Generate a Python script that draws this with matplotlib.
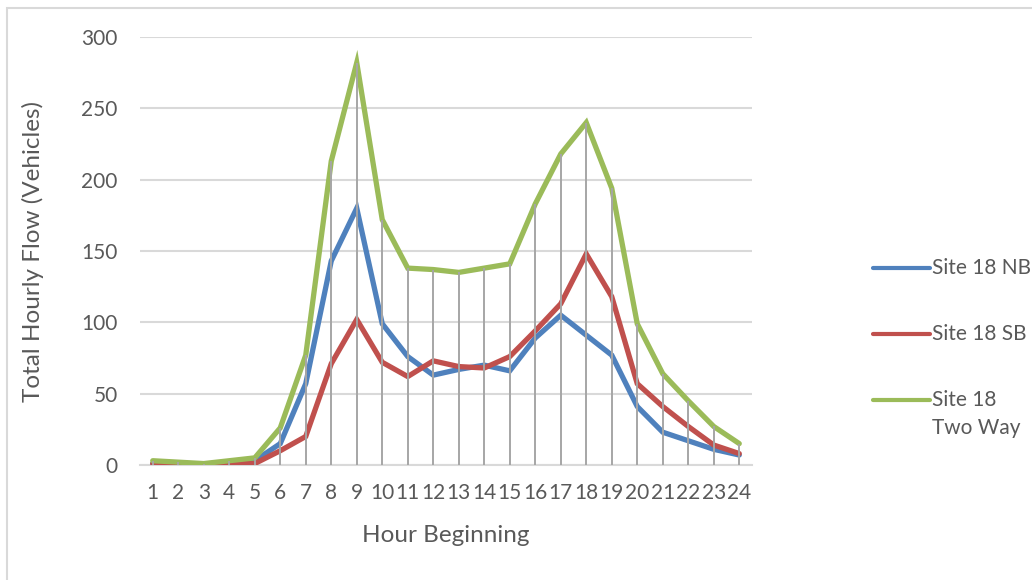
import matplotlib.pyplot as plt
from matplotlib.lines import Line2D
from matplotlib.patches import Rectangle

plt.rcParams['font.family'] = ['Lato', 'DejaVu Sans']

hours = list(range(1, 25))
site_nb = [1, 1, 0, 2, 3, 15, 57, 143, 180, 99, 76, 63, 67, 70, 66, 89, 105, 91, 77, 41, 23, 17, 11, 7]
site_sb = [1, 1, 0, 1, 1, 10, 20, 71, 102, 72, 62, 73, 69, 68, 76, 94, 113, 148, 118, 57, 41, 27, 14, 8]
site_two_way = [3, 2, 1, 3, 5, 26, 77, 213, 282, 172, 138, 137, 135, 138, 141, 183, 218, 240, 194, 99, 64, 45, 27, 15]

series_names = ['Site 18 NB', 'Site 18 SB', 'Site 18\nTwo Way']
series_colors = ['#4F81BD', '#C0504D', '#9BBB59']
text_color = '#595959'

W, H = 1032, 580
fig = plt.figure(figsize=(W / 100, H / 100), dpi=100)
fig.patches.append(Rectangle((7 / W, -0.1), 1.2, 1 - 8 / H + 0.1, transform=fig.transFigure,
                             facecolor='none', edgecolor='#D9D9D9', linewidth=1.5))

ax = fig.add_axes([140 / W, 1 - 465 / H, 612 / W, 428 / H])

# series lines
for values, color in zip([site_nb, site_sb, site_two_way], series_colors):
    ax.plot(hours, values, color=color, linewidth=3.8, solid_joinstyle='miter',
            solid_capstyle='round', zorder=3)

# drop lines from the highest series down to the axis
tops = [max(v) for v in zip(site_nb, site_sb, site_two_way)]
ax.vlines(hours, 0, tops, color='#A6A6A6', linewidth=1.4, zorder=4)

ax.set_xlim(0.5, 24.5)
ax.set_ylim(0, 300)
ax.set_yticks(range(0, 301, 50))
ax.set_xticks(hours)
ax.set_xticklabels([str(h) for h in hours])
ax.grid(axis='y', color='#D9D9D9', linewidth=1.5, zorder=0)
ax.set_axisbelow(True)
for side in ['top', 'right', 'left']:
    ax.spines[side].set_visible(False)
ax.spines['bottom'].set_color('#D9D9D9')
ax.spines['bottom'].set_linewidth(1.5)
ax.tick_params(length=0, labelsize=15, colors=text_color)
ax.tick_params(axis='x', pad=13)
ax.tick_params(axis='y', pad=16)

ax.set_xlabel('Hour Beginning', fontsize=17.5, color=text_color, va='center')
ax.xaxis.set_label_coords(0.5, (465 - 536) / 428)
ax.set_ylabel('Total Hourly Flow (Vehicles)', fontsize=17.5, color=text_color, va='center')
ax.yaxis.set_label_coords((33 - 140) / 612, 0.5)

# legend keys on the right
for i, (name, color) in enumerate(zip(series_names, series_colors)):
    y = 1 - (268 + 66 * i) / H
    fig.add_artist(Line2D([873 / W, 930 / W], [y, y], color=color, linewidth=3,
                          solid_capstyle='round', transform=fig.transFigure))
    for j, part in enumerate(name.split('\n')):
        fig.text(932 / W, y - 28 * j / H, part, fontsize=15, color=text_color,
                 ha='left', va='center')

fig.savefig('out.png', dpi=100)
